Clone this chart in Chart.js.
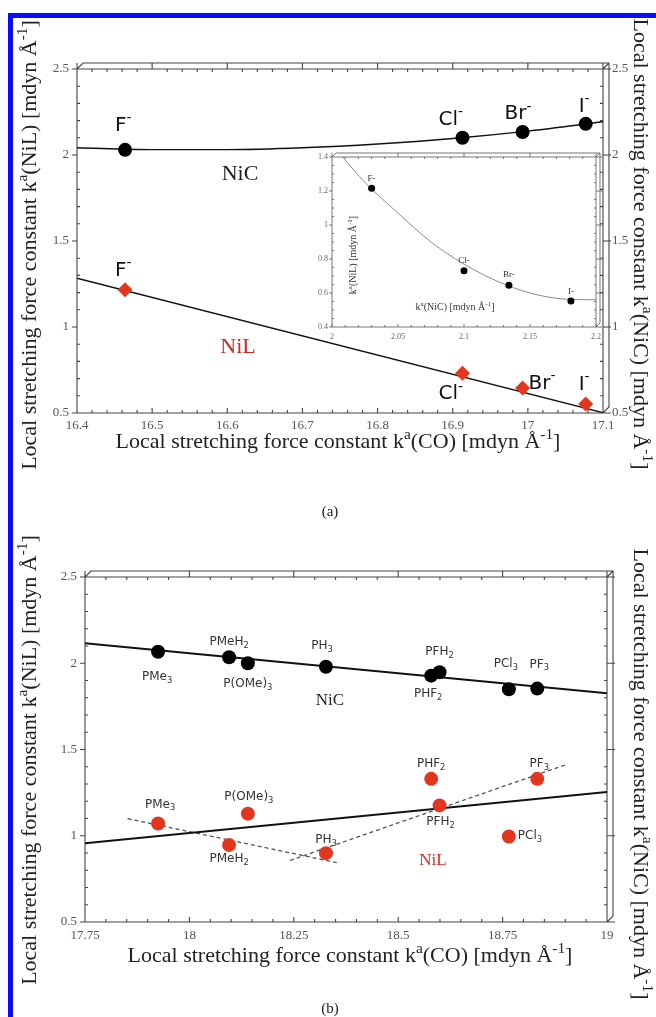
<!DOCTYPE html>
<html>
<head>
<meta charset="utf-8">
<script src="https://cdn.jsdelivr.net/npm/chart.js@4.4.1/dist/chart.umd.min.js"></script>
<style>
  html, body { margin: 0; padding: 0; background: #fff; }
  #page { position: relative; width: 656px; height: 1017px; overflow: hidden; background: #fff; }
  canvas { position: absolute; }
  .edge-top { position: absolute; left: 8px; top: 13px; width: 648px; height: 5px; background: #0a0aff; }
  .edge-left { position: absolute; left: 8px; top: 13px; width: 5px; height: 1004px; background: #0a0aff; }
</style>
</head>
<body>
<div id="page">
  <canvas id="panelA" width="656" height="520" style="left:0;top:0"></canvas>
  <canvas id="inset" width="320" height="215" style="left:300px;top:140px"></canvas>
  <canvas id="panelB" width="656" height="497" style="left:0;top:520px"></canvas>
  <div class="edge-top"></div>
  <div class="edge-left"></div>
</div>
<script>
// ---------- panel (a): Ni(CO)3X- with halide ligands ----------
const haloNames = ['F', 'Cl', 'Br', 'I'];
const haloCO  = [16.464, 16.913, 16.993, 17.077];   // k(CO)
const haloNiC = [2.030, 2.100, 2.134, 2.181];       // k(NiC)
const haloNiL = [1.216, 0.731, 0.646, 0.553];       // k(NiL)
// quadratic fit of k(NiC) against k(CO)
const nicFitCO = [16.4, 16.5, 16.6, 16.7, 16.8, 16.9, 17.0, 17.1];
const nicFitK  = [2.042, 2.031, 2.031, 2.042, 2.064, 2.096, 2.139, 2.193];
// linear fit of k(NiL) against k(CO)
const nilFitCO = [16.4, 17.1];
const nilFitK  = [1.283, 0.502];
// inset: k(NiL) against k(NiC)
const insetFitNiC = [2.008, 2.025, 2.05, 2.075, 2.10, 2.125, 2.15, 2.175, 2.20];
const insetFitNiL = [1.40, 1.25, 1.07, 0.90, 0.77, 0.67, 0.60, 0.565, 0.56];

// ---------- panel (b): Ni(CO)3L with phosphine ligands ----------
const ligNames = ['PMe_{3}', 'PMeH_{2}', 'P(OMe)_{3}', 'PH_{3}', 'PHF_{2}', 'PFH_{2}', 'PCl_{3}', 'PF_{3}'];
const ligCO  = [17.925, 18.095, 18.140, 18.327, 18.579, 18.599, 18.765, 18.833];
const ligNiC = [2.067, 2.035, 2.000, 1.980, 1.928, 1.948, 1.849, 1.853];
const ligNiL = [1.071, 0.947, 1.128, 0.899, 1.330, 1.176, 0.996, 1.330];
const ligNiCFitCO = [17.75, 19.0];
const ligNiCFitK  = [2.116, 1.826];
const ligNiLFitCO = [17.75, 19.0];
const ligNiLFitK  = [0.956, 1.254];
const trendACO = [17.852, 18.353];
const trendAK  = [1.099, 0.844];
const trendBCO = [18.241, 18.904];
const trendBK  = [0.857, 1.414];

// ---------- tick values ----------
const ticksCOa = [16.4, 16.5, 16.6, 16.7, 16.8, 16.9, 17.0, 17.1];
const ticksCOb = [17.75, 18.0, 18.25, 18.5, 18.75, 19.0];
const ticksK   = [0.5, 1.0, 1.5, 2.0, 2.5];
const ticksInsetNiC = [2.0, 2.05, 2.1, 2.15, 2.2];
const ticksInsetNiL = [0.4, 0.6, 0.8, 1.0, 1.2, 1.4];

// ---------- styles ----------
const SERIF = "'Liberation Serif', 'DejaVu Serif', serif";
const SANS = "'DejaVu Sans', 'Liberation Sans', sans-serif";
const RED = '#e2361e';
const RED_TEXT = '#d02a1e';
const INK = '#222';
const TICK_TEXT = '#555';
const TITLE_SIZE = 22;

const pts = (xs, ys) => xs.map((x, i) => ({ x, y: ys[i] }));
const fmt = v => String(Math.round(v * 100) / 100);

// rich text: ^{...} superscript, _{...} subscript
function parseRich(s) {
  const out = []; let i = 0, buf = '';
  while (i < s.length) {
    const c = s[i];
    if ((c === '^' || c === '_') && s[i + 1] === '{') {
      if (buf) { out.push({ t: buf, m: 0 }); buf = ''; }
      const j = s.indexOf('}', i);
      out.push({ t: s.slice(i + 2, j), m: c === '^' ? 1 : -1 });
      i = j + 1;
    } else { buf += c; i++; }
  }
  if (buf) out.push({ t: buf, m: 0 });
  return out;
}
function drawRich(ctx, s, x, y, o) {
  const size = o.size, fam = o.family || SERIF;
  const parts = parseRich(s);
  const fontFor = p => (p.m ? size * 0.7 : size) + 'px ' + fam;
  let w = 0;
  parts.forEach(p => { ctx.font = fontFor(p); p.w = ctx.measureText(p.t).width; w += p.w; });
  ctx.save();
  ctx.translate(x, y);
  if (o.rot) ctx.rotate(o.rot * Math.PI / 180);
  ctx.fillStyle = o.color || INK;
  ctx.textBaseline = 'alphabetic';
  ctx.textAlign = 'left';
  let cx = o.align === 'center' ? -w / 2 : (o.align === 'right' ? -w : 0);
  parts.forEach(p => {
    ctx.font = fontFor(p);
    const dy = p.m === 1 ? -size * 0.42 : (p.m === -1 ? size * 0.24 : 0);
    ctx.fillText(p.t, cx, dy);
    cx += p.w;
  });
  ctx.restore();
}

function minorValues(majors, n) {
  const out = [];
  for (let i = 0; i < majors.length - 1; i++) {
    for (let k = 1; k < n; k++) out.push(majors[i] + (majors[i + 1] - majors[i]) * k / n);
  }
  return out;
}

// box with a shallow perspective edge, plus tick marks on all four sides
const decor = {
  id: 'decor',
  beforeDatasetsDraw(chart, args, o) {
    const ctx = chart.ctx, a = chart.chartArea, sx = chart.scales.x, sy = chart.scales.y;
    const l = a.left, r = a.right, t = a.top, b = a.bottom, d = o.depth;
    ctx.save();
    ctx.strokeStyle = o.color; ctx.lineWidth = o.width;
    ctx.beginPath();
    ctx.moveTo(l, t); ctx.lineTo(l, b); ctx.lineTo(r, b); ctx.lineTo(r, t); ctx.closePath();
    ctx.moveTo(l, t); ctx.lineTo(l + d, t - d); ctx.lineTo(r + d, t - d); ctx.lineTo(r + d, b - d); ctx.lineTo(r, b);
    ctx.moveTo(r, t); ctx.lineTo(r + d, t - d);
    const xm = sx.ticks.map(k => k.value), ym = sy.ticks.map(k => k.value);
    xm.forEach(v => {
      const p = sx.getPixelForValue(v);
      ctx.moveTo(p, b); ctx.lineTo(p, b - o.major);
      ctx.moveTo(p, t); ctx.lineTo(p, t - d);
    });
    minorValues(xm, o.minorX).forEach(v => {
      const p = sx.getPixelForValue(v);
      ctx.moveTo(p, b); ctx.lineTo(p, b - o.minor);
      ctx.moveTo(p, t); ctx.lineTo(p, t + o.minor);
    });
    ym.forEach(v => {
      const p = sy.getPixelForValue(v);
      ctx.moveTo(l, p); ctx.lineTo(l - o.major, p);
      ctx.moveTo(r, p); ctx.lineTo(r + d + 2, p);
    });
    minorValues(ym, o.minorY).forEach(v => {
      const p = sy.getPixelForValue(v);
      ctx.moveTo(l, p); ctx.lineTo(l + o.minor, p);
      ctx.moveTo(r, p); ctx.lineTo(r - o.minor, p);
    });
    ctx.stroke();
    ctx.restore();
  },
  afterDraw(chart, args, o) {
    const ctx = chart.ctx;
    (o.texts || []).forEach(tx => drawRich(ctx, tx.s, tx.x, tx.y, tx));
    (o.pointLabels || []).forEach(set => {
      const sx = chart.scales.x, sy = chart.scales[set.axis || 'y'];
      set.names.forEach((name, i) => {
        const off = set.offsets[i];
        const px = sx.getPixelForValue(set.xs[i]) + off[0];
        const py = sy.getPixelForValue(set.ys[i]) + off[1];
        drawRich(ctx, name, px, py, { size: set.size, family: set.family, color: set.color, align: off[2] || 'center' });
      });
    });
  }
};

function linearAxis(min, max, values, pos, fit, tickOpts) {
  return Object.assign({
    type: 'linear', position: pos, min, max,
    grid: { display: false, drawTicks: false },
    border: { display: false },
    afterBuildTicks: s => { s.ticks = values.map(v => ({ value: v })); },
    afterFit: fit,
    ticks: { autoSkip: false, maxRotation: 0, color: TICK_TEXT, font: { family: SERIF, size: 13 }, padding: 8, callback: fmt }
  }, tickOpts || {});
}

const baseOptions = {
  responsive: false, animation: false, devicePixelRatio: 1,
  plugins: { legend: { display: false }, tooltip: { enabled: false } }
};

// ---------- panel (a) ----------
new Chart(document.getElementById('panelA'), {
  type: 'scatter',
  data: {
    datasets: [
      { data: pts(haloCO, haloNiC), yAxisID: 'y2', pointStyle: 'circle', pointRadius: 7, backgroundColor: '#000', borderColor: '#000', borderWidth: 0 },
      { data: pts(haloCO, haloNiL), yAxisID: 'y', pointStyle: 'rectRot', pointRadius: 7.5, backgroundColor: RED, borderColor: RED, borderWidth: 0 },
      { data: pts(nicFitCO, nicFitK), yAxisID: 'y2', showLine: true, pointRadius: 0, borderColor: '#111', borderWidth: 1.4, cubicInterpolationMode: 'monotone' },
      { data: pts(nilFitCO, nilFitK), yAxisID: 'y', showLine: true, pointRadius: 0, borderColor: '#111', borderWidth: 1.5 }
    ]
  },
  options: Object.assign({}, baseOptions, {
    layout: { padding: { top: 69, left: 0, right: 0, bottom: 0 } },
    scales: {
      x: linearAxis(16.4, 17.1, ticksCOa, 'bottom', s => { s.height = 107; }, { ticks: { autoSkip: false, maxRotation: 0, color: TICK_TEXT, font: { family: SERIF, size: 13 }, padding: 5, callback: fmt } }),
      y: linearAxis(0.5, 2.5, ticksK, 'left', s => { s.width = 77; }),
      y2: linearAxis(0.5, 2.5, ticksK, 'right', s => { s.width = 53; }, { ticks: { autoSkip: false, color: TICK_TEXT, font: { family: SERIF, size: 13 }, padding: 9, callback: fmt } })
    },
    plugins: Object.assign({}, baseOptions.plugins, {
      decor: {
        depth: 6, color: '#444', width: 1.1, major: 5, minor: 3, minorX: 5, minorY: 5,
        texts: [
          { s: 'Local stretching force constant k^{a}(NiL) [mdyn Å^{-1}]', x: 36, y: 245, rot: -90, size: TITLE_SIZE, align: 'center' },
          { s: 'Local stretching force constant k^{a}(NiC) [mdyn Å^{-1}]', x: 634, y: 244, rot: 90, size: TITLE_SIZE, align: 'center' },
          { s: 'Local stretching force constant k^{a}(CO) [mdyn Å^{-1}]', x: 338, y: 448, size: TITLE_SIZE, align: 'center' },
          { s: '(a)', x: 330, y: 516, size: 15, align: 'center' },
          { s: 'NiC', x: 240, y: 180, size: 22, align: 'center' },
          { s: 'NiL', x: 238, y: 353, size: 22, align: 'center', color: RED_TEXT }
        ],
        pointLabels: [
          { names: haloNames.map(n => n + '^{-}'), xs: haloCO, ys: haloNiC, axis: 'y2', size: 20, family: SANS, color: '#111',
            offsets: [[-10, -19, 'left'], [-24, -13, 'left'], [-18, -13, 'left'], [-7, -12, 'left']] },
          { names: haloNames.map(n => n + '^{-}'), xs: haloCO, ys: haloNiL, axis: 'y', size: 20, family: SANS, color: '#111',
            offsets: [[-10, -14, 'left'], [-24, 26, 'left'], [6, 1, 'left'], [-7, -14, 'left']] }
        ]
      }
    })
  }),
  plugins: [decor]
});

// ---------- inset of panel (a) ----------
new Chart(document.getElementById('inset'), {
  type: 'scatter',
  data: {
    datasets: [
      { data: pts(haloNiC, haloNiL), pointStyle: 'circle', pointRadius: 3.5, backgroundColor: '#000', borderWidth: 0 },
      { data: pts(insetFitNiC, insetFitNiL), showLine: true, pointRadius: 0, borderColor: '#8a8a8a', borderWidth: 1, cubicInterpolationMode: 'monotone' }
    ]
  },
  options: Object.assign({}, baseOptions, {
    layout: { padding: { top: 17, left: 0, right: 24, bottom: 0 } },
    scales: {
      x: linearAxis(2.0, 2.2, ticksInsetNiC, 'bottom', s => { s.height = 28; }, { ticks: { autoSkip: false, maxRotation: 0, color: '#666', font: { family: SERIF, size: 8 }, padding: 5, callback: fmt } }),
      y: linearAxis(0.4, 1.4, ticksInsetNiL, 'left', s => { s.width = 32; }, { ticks: { autoSkip: false, color: '#666', font: { family: SERIF, size: 8 }, padding: 4, callback: fmt } })
    },
    plugins: Object.assign({}, baseOptions.plugins, {
      decor: {
        depth: 4, color: '#666', width: 0.9, major: 3, minor: 2, minorX: 5, minorY: 4,
        texts: [
          { s: 'k^{a}(NiL) [mdyn Å^{-1}]', x: 56, y: 115, rot: -90, size: 10, align: 'center', color: '#333' },
          { s: 'k^{a}(NiC) [mdyn Å^{-1}]', x: 155, y: 170, size: 10, align: 'center', color: '#333' }
        ],
        pointLabels: [
          { names: haloNames.map(n => n + '-'), xs: haloNiC, ys: haloNiL, size: 9, family: SERIF, color: '#333',
            offsets: [[0, -7], [0, -8], [0, -8], [0, -7]] }
        ]
      }
    })
  }),
  plugins: [decor]
});

// ---------- panel (b) ----------
new Chart(document.getElementById('panelB'), {
  type: 'scatter',
  data: {
    datasets: [
      { data: pts(ligCO, ligNiC), yAxisID: 'y2', pointStyle: 'circle', pointRadius: 7, backgroundColor: '#000', borderWidth: 0 },
      { data: pts(ligCO, ligNiL), yAxisID: 'y', pointStyle: 'circle', pointRadius: 7, backgroundColor: RED, borderWidth: 0 },
      { data: pts(ligNiCFitCO, ligNiCFitK), yAxisID: 'y2', showLine: true, pointRadius: 0, borderColor: '#111', borderWidth: 2 },
      { data: pts(ligNiLFitCO, ligNiLFitK), yAxisID: 'y', showLine: true, pointRadius: 0, borderColor: '#111', borderWidth: 2 },
      { data: pts(trendACO, trendAK), yAxisID: 'y', showLine: true, pointRadius: 0, borderColor: '#555', borderWidth: 1.3, borderDash: [4, 3] },
      { data: pts(trendBCO, trendBK), yAxisID: 'y', showLine: true, pointRadius: 0, borderColor: '#555', borderWidth: 1.3, borderDash: [4, 3] }
    ]
  },
  options: Object.assign({}, baseOptions, {
    layout: { padding: { top: 57, left: 0, right: 0, bottom: 0 } },
    scales: {
      x: linearAxis(17.75, 19.0, ticksCOb, 'bottom', s => { s.height = 95; }, { ticks: { autoSkip: false, maxRotation: 0, color: TICK_TEXT, font: { family: SERIF, size: 13 }, padding: 6, callback: fmt } }),
      y: linearAxis(0.5, 2.5, ticksK, 'left', s => { s.width = 85; }),
      y2: linearAxis(0.5, 2.5, ticksK, 'right', s => { s.width = 49; }, { ticks: { display: false } })
    },
    plugins: Object.assign({}, baseOptions.plugins, {
      decor: {
        depth: 6, color: '#444', width: 1.1, major: 5, minor: 3, minorX: 5, minorY: 5,
        texts: [
          { s: 'Local stretching force constant k^{a}(NiL) [mdyn Å^{-1}]', x: 36, y: 240, rot: -90, size: TITLE_SIZE, align: 'center' },
          { s: 'Local stretching force constant k^{a}(NiC) [mdyn Å^{-1}]', x: 634, y: 254, rot: 90, size: TITLE_SIZE, align: 'center' },
          { s: 'Local stretching force constant k^{a}(CO) [mdyn Å^{-1}]', x: 350, y: 442, size: TITLE_SIZE, align: 'center' },
          { s: '(b)', x: 330, y: 493, size: 15, align: 'center' },
          { s: 'NiC', x: 330, y: 185, size: 17, align: 'center' },
          { s: 'NiL', x: 433, y: 345, size: 17, align: 'center', color: RED_TEXT }
        ],
        pointLabels: [
          { names: ligNames, xs: ligCO, ys: ligNiC, axis: 'y2', size: 12, family: SANS, color: '#333',
            offsets: [[-1, 28], [0, -12], [0, 24], [-4, -18], [-3, 21], [0, -17], [-3, -22], [2, -21]] },
          { names: ligNames, xs: ligCO, ys: ligNiL, axis: 'y', size: 12, family: SANS, color: '#333',
            offsets: [[2, -16], [0, 17], [1, -14], [0, -10], [0, -12], [1, 20], [9, 3, 'left'], [2, -12]] }
        ]
      }
    })
  }),
  plugins: [decor]
});
</script>
</body>
</html>
